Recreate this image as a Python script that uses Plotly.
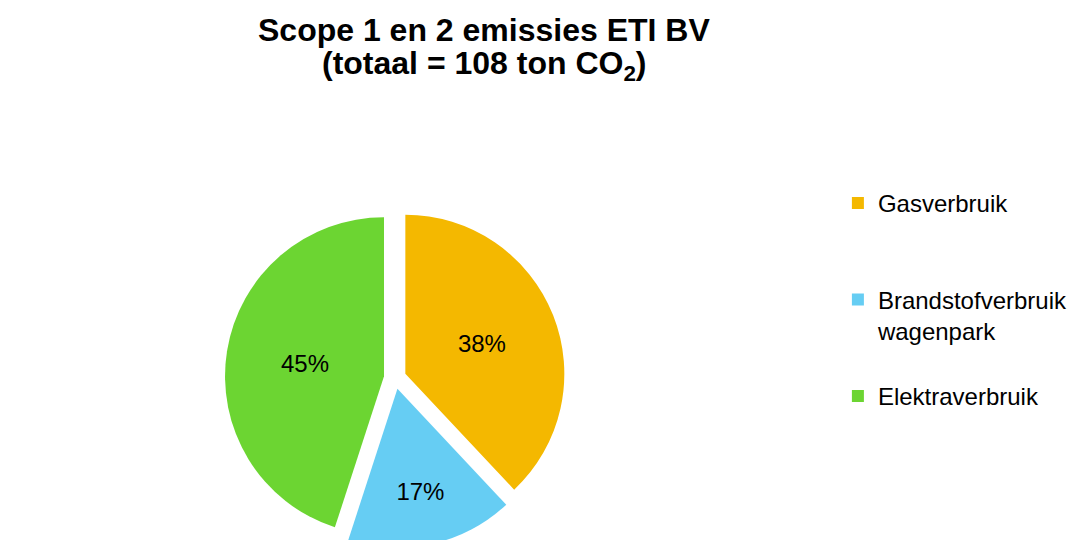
import plotly.graph_objects as go

categories = ["Gasverbruik", "Brandstofverbruik wagenpark", "Elektraverbruik"]
shares = [38, 17, 45]  # percent of total
colors = ["#F4B800", "#66CDF3", "#6CD532"]
title_lines = ["<b>Scope 1 en 2 emissies ETI BV</b>", "<b>(totaal = 108 ton CO<sub>2</sub>)</b>"]

legend_labels = [
    "Gasverbruik<br>\u00a0<br>\u00a0",
    "Brandstofverbruik<br>wagenpark<br>\u00a0",
    "Elektraverbruik",
]

fig = go.Figure(
    go.Pie(
        labels=legend_labels,
        values=shares,
        sort=False,
        direction="clockwise",
        rotation=0,
        pull=[0.07, 0.07, 0.07],
        marker=dict(colors=colors, line=dict(width=0)),
        textinfo="percent",
        textposition="inside",
        insidetextorientation="horizontal",
        textfont=dict(family="Arial", size=24, color="black"),
        domain=dict(x=[0.0, 0.72], y=[0.0, 0.63]),
        hoverinfo="percent",
    )
)

for line, ypix in zip(title_lines, [22, 58]):
    fig.add_annotation(
        text=line,
        x=0.443,
        xref="paper",
        xanchor="center",
        y=1 - ypix / 540,
        yref="paper",
        yanchor="middle",
        showarrow=False,
        font=dict(family="Arial", size=32, color="black"),
    )

fig.update_layout(
    width=1075,
    height=540,
    paper_bgcolor="white",
    plot_bgcolor="white",
    margin=dict(l=0, r=0, t=0, b=0),
    legend=dict(
        x=0.772,
        y=0.68,
        xanchor="left",
        yanchor="top",
        valign="top",
        font=dict(family="Arial", size=24, color="black"),
        itemwidth=30,
        tracegroupgap=0,
    ),
)

fig.write_html("out.html")
